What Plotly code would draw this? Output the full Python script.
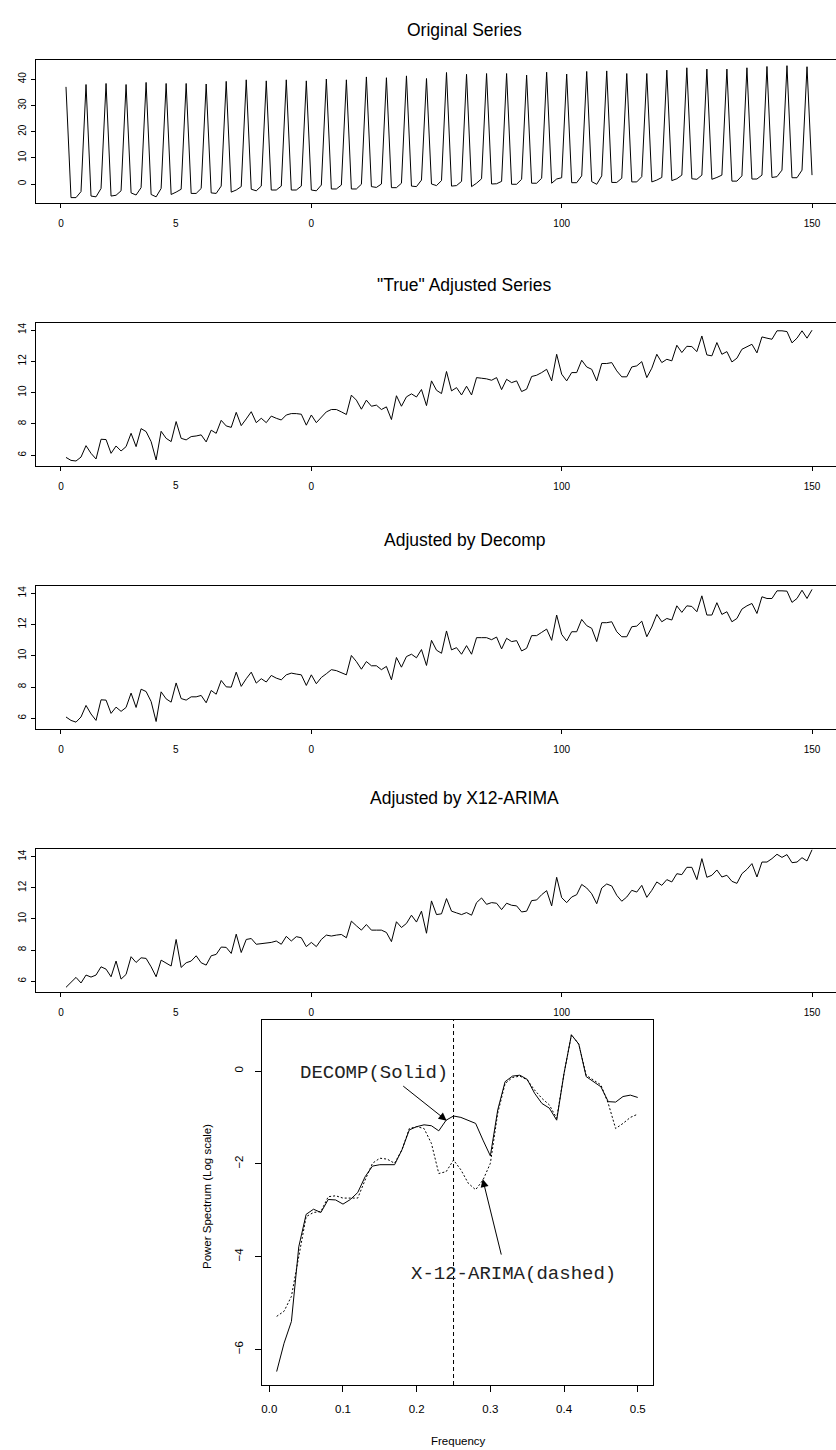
import plotly.graph_objects as go

W, H = 836, 1450

# ---------------- data ----------------
t_index = list(range(1, 151))

original_series = [
    37.1, -5.2, -5.2, -2.9, 38.0, -4.6, -4.9, -1.7, 38.4, -4.6, -4.3, -2.6,
    38.0, -3.4, -4.2, -1.4, 38.8, -4.0, -4.9, -1.7, 38.4, -4.0, -3.1, -2.0,
    38.4, -3.6, -3.6, -1.7, 38.2, -3.4, -3.6, -0.8, 39.2, -3.1, -2.3, -1.0,
    39.8, -2.0, -2.6, -0.8, 39.4, -2.3, -2.3, -0.8, 39.8, -2.3, -2.3, -0.8,
    39.4, -2.3, -2.6, -0.4, 40.1, -1.9, -1.9, -0.4, 39.8, -1.9, -1.9, -0.1,
    40.9, -1.0, -1.3, 0.0, 40.6, -1.4, -1.4, 0.3, 41.3, -0.8, -1.0, 1.5,
    40.3, 0.0, -0.6, 1.3, 42.6, -0.8, -0.6, 1.0, 41.9, -1.0, 0.3, 2.0,
    42.2, 0.0, 0.1, 1.0, 42.2, -0.1, -0.1, 1.8, 41.6, 0.3, 0.3, 2.2,
    42.7, 0.3, 1.9, 2.4, 42.0, 0.5, 0.5, 3.1, 43.0, 0.9, -0.1, 3.1,
    43.2, 0.6, 0.6, 2.2, 42.2, 0.8, 0.8, 2.8, 42.2, 0.8, 1.5, 2.5,
    43.5, 1.3, 2.0, 3.4, 44.4, 2.0, 1.8, 3.4, 43.9, 1.8, 2.5, 3.4,
    43.9, 1.1, 1.1, 3.1, 44.4, 1.9, 1.9, 3.4, 44.9, 2.5, 2.8, 5.3,
    45.2, 2.4, 2.4, 5.3, 44.8, 3.4,
]

true_adjusted = [
    5.86, 5.67, 5.63, 5.88, 6.61, 6.12, 5.76, 7.02, 7.00, 6.12,
    6.59, 6.27, 6.55, 7.40, 6.55, 7.70, 7.51, 6.87, 5.70, 7.53,
    7.08, 6.87, 8.15, 7.08, 6.98, 7.19, 7.23, 7.30, 6.85, 7.60,
    7.40, 8.23, 7.87, 7.78, 8.74, 7.89, 8.32, 8.78, 8.08, 8.36,
    8.08, 8.50, 8.36, 8.25, 8.57, 8.66, 8.66, 8.62, 7.92, 8.57,
    8.08, 8.42, 8.77, 8.92, 8.92, 8.77, 8.60, 9.84, 9.52, 8.94,
    9.52, 9.13, 9.20, 8.92, 9.09, 8.28, 9.80, 9.13, 9.73, 9.92,
    9.72, 10.20, 9.17, 10.75, 10.15, 9.94, 11.35, 10.11, 10.32, 9.85,
    10.41, 9.85, 10.96, 10.92, 10.88, 10.79, 10.96, 10.19, 10.85, 10.64,
    10.75, 10.07, 10.22, 11.03, 11.11, 11.28, 11.49, 10.75, 12.45, 11.18,
    10.75, 11.28, 11.28, 12.07, 11.64, 11.49, 10.75, 11.86, 11.86, 11.92,
    11.39, 11.01, 11.01, 11.64, 11.71, 11.98, 10.96, 11.56, 12.45, 11.92,
    12.13, 12.03, 13.03, 12.56, 12.96, 12.94, 12.62, 13.62, 12.41, 12.35,
    13.20, 12.45, 12.62, 11.96, 12.20, 12.77, 12.94, 13.09, 12.54, 13.56,
    13.48, 13.41, 13.95, 13.95, 13.90, 13.18, 13.48, 13.95, 13.48, 13.99,
]

decomp_adjusted = [
    6.08, 5.86, 5.75, 6.08, 6.82, 6.27, 5.86, 7.18, 7.16, 6.31,
    6.71, 6.44, 6.69, 7.61, 6.69, 7.86, 7.71, 7.07, 5.79, 7.69,
    7.24, 7.03, 8.26, 7.26, 7.16, 7.37, 7.37, 7.46, 6.99, 7.78,
    7.54, 8.42, 8.01, 7.99, 8.95, 8.04, 8.53, 8.95, 8.25, 8.53,
    8.32, 8.74, 8.57, 8.46, 8.78, 8.89, 8.83, 8.78, 8.10, 8.78,
    8.21, 8.61, 8.85, 9.11, 9.05, 8.89, 8.78, 10.02, 9.63, 9.14,
    9.63, 9.36, 9.36, 9.11, 9.32, 8.46, 9.89, 9.27, 9.95, 10.10,
    9.87, 10.40, 9.38, 10.99, 10.36, 10.16, 11.59, 10.38, 10.52, 10.10,
    10.65, 10.10, 11.16, 11.16, 11.16, 11.03, 11.20, 10.44, 11.12, 10.91,
    10.97, 10.31, 10.48, 11.29, 11.29, 11.50, 11.71, 10.99, 12.61, 11.37,
    10.95, 11.54, 11.54, 12.33, 11.93, 11.76, 10.91, 12.12, 12.12, 12.18,
    11.54, 11.22, 11.22, 11.86, 11.90, 12.22, 11.22, 11.84, 12.65, 12.18,
    12.39, 12.29, 13.20, 12.78, 13.20, 13.16, 12.82, 13.84, 12.61, 12.61,
    13.40, 12.65, 12.82, 12.18, 12.39, 12.99, 13.20, 13.35, 12.71, 13.78,
    13.67, 13.67, 14.16, 14.16, 14.14, 13.42, 13.67, 14.20, 13.67, 14.25,
]

x12_adjusted = [
    5.60, 5.90, 6.24, 5.88, 6.39, 6.26, 6.39, 6.92, 6.77, 6.28,
    7.29, 6.13, 6.43, 7.57, 7.20, 7.50, 7.46, 6.92, 6.28, 7.35,
    7.14, 6.97, 8.68, 6.88, 7.18, 7.29, 7.63, 7.18, 7.03, 7.63,
    7.72, 8.19, 8.17, 7.78, 9.02, 7.84, 8.68, 8.74, 8.37, 8.42,
    8.43, 8.49, 8.58, 8.37, 8.88, 8.58, 8.86, 8.79, 8.22, 8.49,
    8.22, 8.68, 8.96, 8.90, 8.96, 9.00, 8.79, 9.86, 9.56, 9.28,
    9.64, 9.28, 9.28, 9.28, 9.13, 8.54, 9.82, 9.45, 9.71, 10.24,
    9.80, 10.50, 9.08, 11.16, 10.28, 10.33, 11.31, 10.50, 10.39, 10.28,
    10.41, 10.24, 11.05, 11.35, 10.94, 11.05, 11.01, 10.60, 11.01, 10.88,
    10.84, 10.45, 10.50, 11.18, 11.22, 11.56, 11.82, 10.84, 12.68, 11.37,
    11.05, 11.41, 11.56, 12.22, 11.99, 11.62, 10.98, 11.99, 12.25, 12.12,
    11.52, 11.14, 11.41, 11.84, 11.73, 12.16, 11.39, 11.84, 12.38, 12.16,
    12.53, 12.38, 12.91, 12.85, 13.32, 13.32, 12.53, 13.88, 12.68, 12.81,
    13.15, 12.70, 12.81, 12.42, 12.29, 12.91, 13.19, 13.56, 12.70, 13.66,
    13.66, 13.88, 14.16, 13.96, 14.14, 13.62, 13.66, 13.94, 13.73, 14.45,
]

frequency = [
    0.01, 0.02, 0.03, 0.04, 0.05, 0.06, 0.07, 0.08, 0.09, 0.10,
    0.11, 0.12, 0.13, 0.14, 0.15, 0.16, 0.17, 0.18, 0.19, 0.20,
    0.21, 0.22, 0.23, 0.24, 0.25, 0.26, 0.27, 0.28, 0.29, 0.30,
    0.31, 0.32, 0.33, 0.34, 0.35, 0.36, 0.37, 0.38, 0.39, 0.40,
    0.41, 0.42, 0.43, 0.44, 0.45, 0.46, 0.47, 0.48, 0.49, 0.50,
]

spec_decomp = [
    -6.48, -5.87, -5.40, -3.79, -3.09, -2.98, -3.05, -2.77, -2.78, -2.87,
    -2.77, -2.62, -2.28, -2.05, -2.02, -2.02, -2.02, -1.70, -1.27, -1.20,
    -1.16, -1.18, -1.29, -1.06, -0.97, -1.00, -1.06, -1.13, -1.49, -1.83,
    -0.84, -0.23, -0.11, -0.09, -0.18, -0.48, -0.70, -0.80, -1.06, -0.05,
    0.78, 0.58, -0.12, -0.23, -0.34, -0.66, -0.67, -0.55, -0.52, -0.57,
]

spec_x12 = [
    -5.29, -5.18, -4.86, -4.00, -3.14, -3.05, -3.03, -2.71, -2.69, -2.74,
    -2.74, -2.74, -2.35, -1.99, -1.88, -1.90, -1.99, -1.70, -1.24, -1.20,
    -1.24, -1.56, -2.21, -2.17, -1.92, -2.13, -2.42, -2.56, -2.35, -1.99,
    -0.91, -0.27, -0.14, -0.11, -0.19, -0.41, -0.59, -0.73, -1.02, -0.05,
    0.78, 0.58, -0.09, -0.19, -0.30, -0.70, -1.24, -1.13, -1.00, -0.93,
]

seasonal_freq = 0.25

panel_titles = ["Original Series", '"True" Adjusted Series',
                "Adjusted by Decomp", "Adjusted by X12-ARIMA"]
ts_tickvals = [0, 50, 100, 150]
ts_ticktext = ["0", "0", "100", "150"]
stray_label = "5"
stray_label_pos = 23

# ---------------- layout helpers ----------------
def py(p):
    return 1 - p / H

FONT = "Liberation Sans, Arial, sans-serif"
series_list = [original_series, true_adjusted, decomp_adjusted, x12_adjusted]
# (top px, bottom px, y range, y ticks)
panels = [
    (60, 203.3, [-7.37, 47.37], [0, 10, 20, 30, 40]),
    (323.3, 465.7, [5.33, 14.43], [6, 8, 10, 12, 14]),
    (586, 729, [5.31, 14.47], [6, 8, 10, 12, 14]),
    (849, 992.3, [5.28, 14.50], [6, 8, 10, 12, 14]),
]
title_y = [30, 285, 540, 798]

fig = go.Figure()
layout = dict(
    width=W, height=H, margin=dict(l=0, r=0, t=0, b=0),
    paper_bgcolor="white", plot_bgcolor="white", showlegend=False,
    font=dict(family=FONT, color="black"),
)
annotations = []

for i, (series, (top, bot, yr, yt)) in enumerate(zip(series_list, panels)):
    n = i + 1
    xa = "x" if n == 1 else f"x{n}"
    ya = "y" if n == 1 else f"y{n}"
    fig.add_trace(go.Scatter(x=t_index, y=series, mode="lines",
                             line=dict(color="black", width=1),
                             xaxis=xa, yaxis=ya, hoverinfo="skip"))
    layout["xaxis" if n == 1 else f"xaxis{n}"] = dict(
        domain=[36 / W, 1], anchor=ya, range=[-4.99, 154.79],
        showline=True, linecolor="black", linewidth=1, mirror=True,
        ticks="outside", ticklen=4, tickcolor="black", tickwidth=1,
        tickvals=ts_tickvals, ticktext=ts_ticktext, ticklabelstandoff=7,
        tickfont=dict(size=10, family=FONT, color="black"),
        showgrid=False, zeroline=False, automargin=False,
    )
    layout["yaxis" if n == 1 else f"yaxis{n}"] = dict(
        domain=[py(bot), py(top)], anchor=xa, range=yr,
        showline=True, linecolor="black", linewidth=1, mirror=False,
        ticks="outside", ticklen=4, tickcolor="black", tickwidth=1,
        tickvals=yt, tickangle=-90, ticklabelstandoff=1,
        tickfont=dict(size=10, family=FONT, color="black"),
        showgrid=False, zeroline=False, automargin=False,
    )
    annotations.append(dict(
        text=panel_titles[i], x=464 / W, y=py(title_y[i]), xref="paper", yref="paper",
        xanchor="center", yanchor="middle", showarrow=False,
        font=dict(size=17.5, family=FONT, color="black")))
    annotations.append(dict(
        text=stray_label, x=stray_label_pos, y=py(bot + 20), xref=xa, yref="paper",
        xanchor="center", yanchor="middle", showarrow=False,
        font=dict(size=10, family=FONT, color="black")))

# ---------------- spectrum ----------------
fig.add_trace(go.Scatter(x=frequency, y=spec_decomp, mode="lines",
                         line=dict(color="black", width=1),
                         xaxis="x5", yaxis="y5", hoverinfo="skip"))
fig.add_trace(go.Scatter(x=frequency, y=spec_x12, mode="lines",
                         line=dict(color="black", width=1, dash="2px,2px"),
                         xaxis="x5", yaxis="y5", hoverinfo="skip"))
layout["xaxis5"] = dict(
    domain=[262.3 / W, 652.7 / W], anchor="y5", range=[-0.0095, 0.5203],
    showline=True, linecolor="black", linewidth=1, mirror=True,
    ticks="outside", ticklen=6, tickcolor="black",
    tickvals=[0.0, 0.1, 0.2, 0.3, 0.4, 0.5],
    ticktext=["0.0", "0.1", "0.2", "0.3", "0.4", "0.5"], ticklabelstandoff=7,
    tickfont=dict(size=11.5, family=FONT, color="black"),
    showgrid=False, zeroline=False, automargin=False,
)
layout["yaxis5"] = dict(
    domain=[py(1385), py(1020)], anchor="x5", range=[-6.77, 1.10],
    showline=True, linecolor="black", linewidth=1, mirror=True,
    ticks="outside", ticklen=6, tickcolor="black",
    tickvals=[-6, -4, -2, 0], tickangle=-90, ticklabelstandoff=8,
    tickfont=dict(size=11.5, family=FONT, color="black"),
    showgrid=False, zeroline=False, automargin=False,
)
layout["shapes"] = [dict(type="line", xref="x5", yref="y5 domain",
                         x0=seasonal_freq, x1=seasonal_freq, y0=0, y1=1,
                         line=dict(color="black", width=1, dash="4px,3px"))]

MONO = "Liberation Mono, Courier New, monospace"
annotations += [
    dict(text="DECOMP(Solid)", x=0.142, y=-0.04, xref="x5", yref="y5",
         showarrow=False, xanchor="center", yanchor="middle",
         font=dict(size=19, family=MONO, color="#222")),
    dict(text="X-12-ARIMA(dashed)", x=0.331, y=-4.37, xref="x5", yref="y5",
         showarrow=False, xanchor="center", yanchor="middle",
         font=dict(size=19, family=MONO, color="#222")),
    dict(text="", x=0.2407, y=-1.07, ax=0.1797, ay=-0.30,
         xref="x5", yref="y5", axref="x5", ayref="y5",
         showarrow=True, arrowhead=2, arrowsize=1.6, arrowwidth=1, arrowcolor="black"),
    dict(text="", x=0.2896, y=-2.33, ax=0.3153, ay=-3.99,
         xref="x5", yref="y5", axref="x5", ayref="y5",
         showarrow=True, arrowhead=2, arrowsize=1.6, arrowwidth=1, arrowcolor="black"),
    dict(text="Power Spectrum (Log scale)", x=207 / W, y=py(1197),
         xref="paper", yref="paper", textangle=-90, showarrow=False,
         xanchor="center", yanchor="middle",
         font=dict(size=11.5, family=FONT, color="black")),
    dict(text="Frequency", x=459 / W, y=py(1441), xref="paper", yref="paper",
         showarrow=False, xanchor="center", yanchor="middle",
         font=dict(size=11.5, family=FONT, color="black")),
]
layout["annotations"] = annotations
fig.update_layout(**layout)
fig.write_html("out.html")
